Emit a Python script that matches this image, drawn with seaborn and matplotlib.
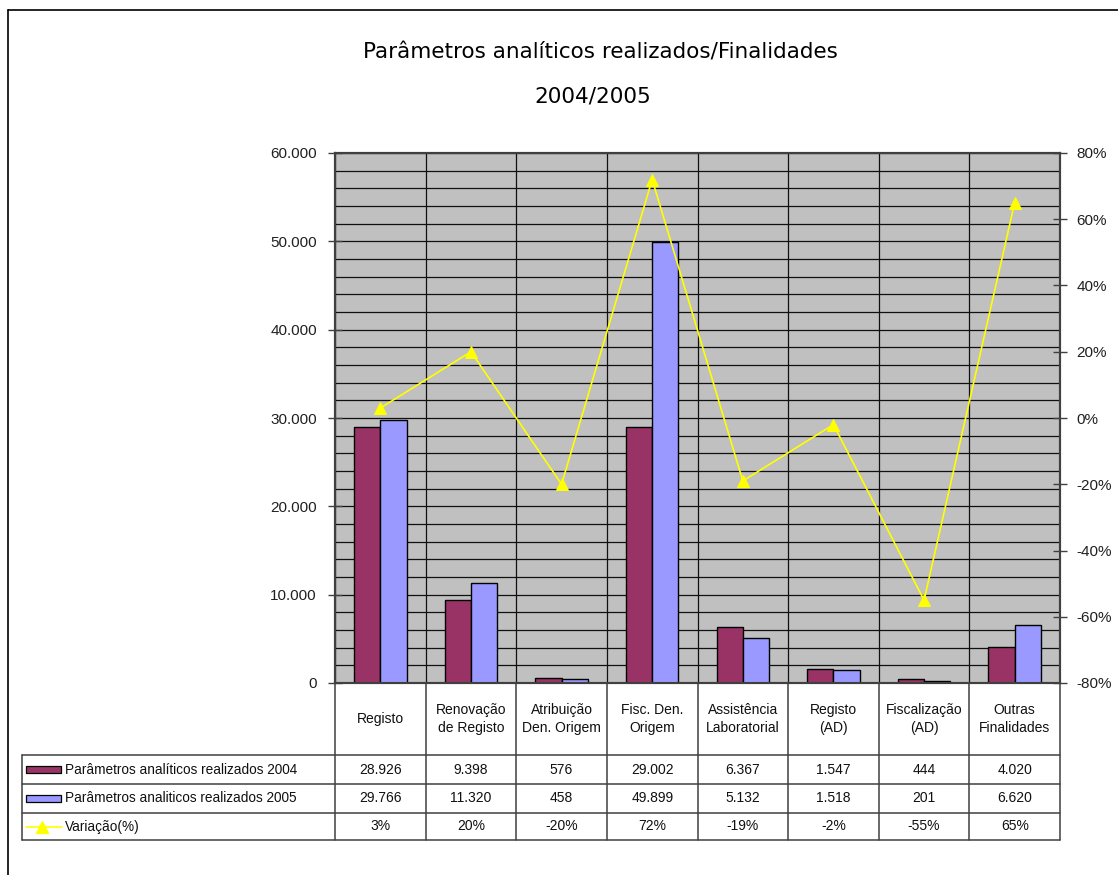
import numpy as np
import pandas as pd
import matplotlib
matplotlib.use("Agg")
import matplotlib.pyplot as plt
import matplotlib.transforms as mtransforms
from matplotlib.lines import Line2D
from matplotlib.patches import Rectangle
from matplotlib.ticker import MultipleLocator, FuncFormatter
import seaborn as sns

# ---------------- data ----------------
categories = ["Registo", "Renovação\nde Registo", "Atribuição\nDen. Origem",
              "Fisc. Den.\nOrigem", "Assistência\nLaboratorial", "Registo\n(AD)",
              "Fiscalização\n(AD)", "Outras\nFinalidades"]
values_2004 = [28926, 9398, 576, 29002, 6367, 1547, 444, 4020]
values_2005 = [29766, 11320, 458, 49899, 5132, 1518, 201, 6620]
variation_pct = [3, 20, -20, 72, -19, -2, -55, 65]
series_names = ["Parâmetros analíticos realizados 2004",
                "Parâmetros analiticos realizados 2005",
                "Variação(%)"]
title_lines = ["Parâmetros analíticos realizados/Finalidades", "2004/2005"]

# ---------------- style ----------------
sns.set_theme(style="white")
plt.rcParams['font.family'] = ['Liberation Sans', 'DejaVu Sans']

C04 = "#993366"
C05 = "#9999FF"
CLINE = "#FFFF00"
BG = "#C0C0C0"
GRID = "#101010"
FRAME = "#404040"

W, H = 1118, 875
fig = plt.figure(figsize=(W / 100, H / 100), dpi=100)
fig.patch.set_facecolor("white")

def fx(px):
    return px / W

def fy(py):
    return 1 - py / H

L, R, T, B = 335, 1060, 153, 683
ax = fig.add_axes([fx(L), fy(B), fx(R) - fx(L), fy(T) - fy(B)])
ax.set_facecolor(BG)

df = pd.DataFrame({
    "cat": categories * 2,
    "val": values_2004 + values_2005,
    "serie": [series_names[0]] * len(categories) + [series_names[1]] * len(categories),
})
sns.barplot(data=df, x="cat", y="val", hue="serie", order=categories,
            hue_order=series_names[:2], palette=[C04, C05], width=0.58,
            saturation=1, edgecolor="black", linewidth=1.0, ax=ax,
            legend=False, zorder=3)

ax.set_xlim(-0.5, len(categories) - 0.5)
ax.set_ylim(0, 60000)
ax.yaxis.set_major_locator(MultipleLocator(10000))
ax.yaxis.set_minor_locator(MultipleLocator(2000))
ax.yaxis.set_major_formatter(FuncFormatter(lambda v, p: f"{int(v):,}".replace(",", ".")))
ax.set_xticks(np.arange(-0.5, len(categories), 1), minor=True)
ax.set_xticks([])
ax.grid(True, which="both", axis="y", color=GRID, lw=0.9, zorder=0)
ax.grid(True, which="minor", axis="x", color=GRID, lw=0.9, zorder=0)
ax.set_axisbelow(True)
ax.tick_params(axis="y", which="major", direction="inout", length=10, width=1,
               color=FRAME, labelsize=11, labelcolor="#202020", pad=8)
ax.tick_params(axis="y", which="minor", length=0)
ax.tick_params(axis="x", which="both", length=0)
ax.set_xlabel("")
ax.set_ylabel("")
for s in ax.spines.values():
    s.set_color(FRAME)
    s.set_linewidth(1.5)

# variation line on secondary axis
ax2 = ax.twinx()
x_idx = np.arange(len(categories))
sns.lineplot(x=x_idx, y=np.array(variation_pct) / 100, ax=ax2, color=CLINE,
             lw=1.2, marker="^", markersize=9, markeredgecolor=CLINE,
             markerfacecolor=CLINE, zorder=5)
ax2.set_ylim(-0.8, 0.8)
ax2.yaxis.set_major_locator(MultipleLocator(0.2))
ax2.yaxis.set_major_formatter(FuncFormatter(lambda v, p: f"{round(v * 100):d}%"))
ax2.tick_params(axis="y", direction="inout", length=10, width=1, color=FRAME,
                labelsize=11, labelcolor="#202020", pad=7)
ax2.grid(False)
ax2.set_xlim(-0.5, len(categories) - 0.5)
for s in ax2.spines.values():
    s.set_color(FRAME)
    s.set_linewidth(1.5)

# ---------------- data table ----------------
blend = mtransforms.blended_transform_factory(ax.transData, fig.transFigure)
row_y = [755, 784, 813, 840]
TL = 22
tcol = "#404040"

for b in np.arange(-0.5, len(categories), 1):
    fig.add_artist(Line2D([b, b], [fy(B), fy(row_y[-1])], transform=blend,
                          color=tcol, lw=1.1))
for yy in row_y:
    fig.add_artist(Line2D([fx(TL), fx(R)], [fy(yy), fy(yy)], transform=fig.transFigure,
                          color=tcol, lw=1.1))
fig.add_artist(Line2D([fx(TL), fx(TL)], [fy(row_y[0]), fy(row_y[-1])],
                      transform=fig.transFigure, color=tcol, lw=1.1))

for i, c in enumerate(categories):
    fig.text(i, fy((B + row_y[0]) / 2), c, transform=blend, ha="center", va="center",
             fontsize=10, linespacing=1.45, color="#101010")

def fmt_num(v):
    return f"{v:,}".replace(",", ".")

rows = [[fmt_num(v) for v in values_2004],
        [fmt_num(v) for v in values_2005],
        [f"{v}%" for v in variation_pct]]
for r, vals in enumerate(rows):
    yc = (row_y[r] + row_y[r + 1]) / 2
    for i, t in enumerate(vals):
        fig.text(i, fy(yc), t, transform=blend, ha="center", va="center",
                 fontsize=10, color="#101010")
    fig.text(fx(65), fy(yc), series_names[r], ha="left", va="center",
             fontsize=9.8, color="#101010")

for r, col in enumerate([C04, C05]):
    yc = (row_y[r] + row_y[r + 1]) / 2
    fig.add_artist(Rectangle((fx(26), fy(yc + 3.5)), fx(61) - fx(26), 7 / H,
                             transform=fig.transFigure, facecolor=col,
                             edgecolor="black", lw=0.9))
yc = (row_y[2] + row_y[3]) / 2
fig.add_artist(Line2D([fx(26), fx(62)], [fy(yc), fy(yc)], transform=fig.transFigure,
                      color=CLINE, lw=1.2))
fig.add_artist(Line2D([fx(42)], [fy(yc)], transform=fig.transFigure, color=CLINE,
                      marker="^", markersize=8, markeredgecolor=CLINE, markerfacecolor=CLINE))

# ---------------- title ----------------
fig.text(fx(600), fy(53), title_lines[0], ha="center", va="center",
         fontsize=15.5, family=["DejaVu Sans"], color="black")
fig.text(fx(593), fy(96), title_lines[1], ha="center", va="center",
         fontsize=15.5, family=["DejaVu Sans"], color="black")

# outer chart frame (left and top edges visible)
fig.add_artist(Line2D([fx(8), fx(8)], [fy(10), 0], transform=fig.transFigure,
                      color="black", lw=1.2))
fig.add_artist(Line2D([fx(8), 1], [fy(10), fy(10)], transform=fig.transFigure,
                      color="black", lw=1.2))

fig.savefig("out.png", dpi=100, facecolor="white")
